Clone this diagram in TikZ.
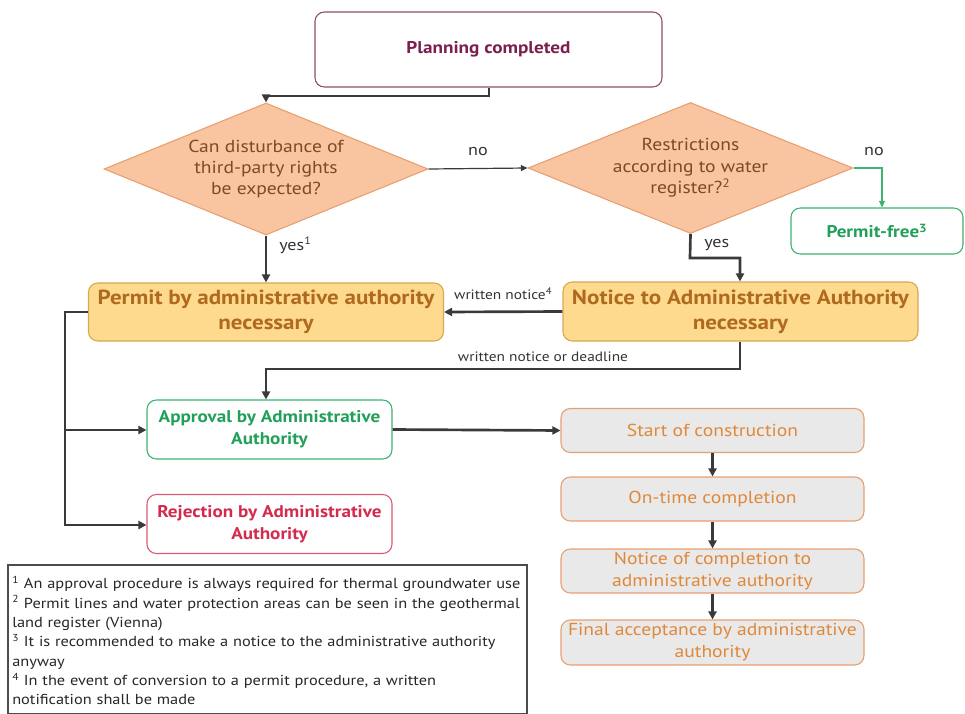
\documentclass[tikz,border=0pt]{standalone}
\usepackage{fontspec}
\setmainfont{PT Sans}[FakeStretch=1.13]
\usetikzlibrary{shapes.geometric,arrows.meta}
\definecolor{planborder}{HTML}{8E4D6E}
\definecolor{plantext}{HTML}{7A1F4F}
\definecolor{diafill}{HTML}{F9C4A0}
\definecolor{diaborder}{HTML}{E6A070}
\definecolor{diatext}{HTML}{7D4A22}
\definecolor{yfill}{HTML}{FDDA8E}
\definecolor{yborder}{HTML}{D8A850}
\definecolor{ytext}{HTML}{B06A20}
\definecolor{gtext}{HTML}{22A05A}
\definecolor{gborder}{HTML}{3CB371}
\definecolor{rtext}{HTML}{D42A4E}
\definecolor{rborder}{HTML}{D85A75}
\definecolor{grayfill}{HTML}{E9E9E9}
\definecolor{oborder}{HTML}{E6A070}
\definecolor{otext}{HTML}{E0883A}
\definecolor{conncol}{HTML}{3A3A3A}
\begin{document}
\begin{tikzpicture}[x=0.75pt,y=-0.75pt,
  box/.style={rectangle,rounded corners=7pt,draw,line width=0.8pt,align=center,inner sep=0pt},
  planbox/.style={box,draw=planborder,text=plantext,font=\bfseries\fontsize{12.75}{15}\selectfont},
  dia/.style={diamond,aspect=2.45,draw=diaborder,fill=diafill,line width=0.8pt,text=diatext,align=center,inner sep=0pt,font=\fontsize{13}{16}\selectfont},
  ybox/.style={box,draw=yborder,fill=yfill,text=ytext,font=\bfseries\fontsize{15.3}{18.8}\selectfont},
  gbox/.style={box,draw=gborder,fill=white,text=gtext,font=\bfseries\fontsize{12.7}{16.2}\selectfont},
  rbox/.style={box,draw=rborder,fill=white,text=rtext,font=\bfseries\fontsize{12.7}{16.2}\selectfont},
  obox/.style={box,draw=oborder,fill=grayfill,text=otext,font=\fontsize{13}{16.5}\selectfont},
  conn/.style={draw=conncol,line width=2pt,-{Triangle[length=6pt,width=6pt]}},
  thin/.style={draw=conncol,line width=0.9pt,-{Triangle[length=5pt,width=4.5pt]}},
  gconn/.style={draw=gborder,line width=0.9pt,-{Triangle[length=5pt,width=4.5pt]}},
  lbl/.style={inner sep=0pt,text=black!80,font=\fontsize{12}{14}\selectfont},
  slbl/.style={inner sep=0pt,text=black!80,font=\fontsize{10.2}{12}\selectfont}
]
\useasboundingbox (0,0) rectangle (965,714);

% nodes
\node[planbox,minimum width=0.75*347pt,minimum height=0.75*75pt] (plan) at (488.5,49.5) {Planning completed};
\node[dia,minimum width=0.75*324pt,minimum height=0.75*132pt] (d1) at (266,169) {Can disturbance of\\third-party rights\\be expected?};
\node[dia,minimum width=0.75*325pt,minimum height=0.75*131pt] (d2) at (690.5,168) {Restrictions\\according to water\\register?\textsuperscript{2}};
\node[gbox,minimum width=0.75*172pt,minimum height=0.75*46pt] (pfree) at (877,231) {Permit-free\textsuperscript{3}};
\node[ybox,minimum width=0.75*355pt,minimum height=0.75*58pt] (permit) at (266,312) {Permit by administrative authority\\necessary};
\node[ybox,minimum width=0.75*355pt,minimum height=0.75*59pt] (notice) at (740.5,311.5) {Notice to Administrative Authority\\necessary};
\node[gbox,minimum width=0.75*245pt,minimum height=0.75*59pt] (approval) at (269.5,429.5) {Approval by Administrative\\Authority};
\node[rbox,minimum width=0.75*245pt,minimum height=0.75*59pt] (reject) at (269.5,524) {Rejection by Administrative\\Authority};
\node[obox,minimum width=0.75*303pt,minimum height=0.75*44pt] (start) at (712.5,430.5) {Start of construction};
\node[obox,minimum width=0.75*303pt,minimum height=0.75*44pt] (ontime) at (712.5,499) {On-time completion};
\node[obox,minimum width=0.75*303pt,minimum height=0.75*44pt] (ncompl) at (712.5,571) {Notice of completion to\\administrative authority};
\node[obox,minimum width=0.75*303pt,minimum height=0.75*45pt] (final) at (712.5,642.5) {Final acceptance by administrative\\authority};

% footnote box
\node[draw=black!70,line width=0.8pt,rectangle,inner sep=0pt,minimum width=0.75*519pt,minimum height=0.75*149pt] (fnbox) at (267.5,639.5) {};
\node[anchor=north west,inner sep=0pt,align=left,text width=0.75*512pt,text=black!85,font=\fontsize{10.85}{14.5}\selectfont] (fntext) at (12,576)
{\textsuperscript{1} An approval procedure is always required for thermal groundwater use\\
\textsuperscript{2} Permit lines and water protection areas can be seen in the geothermal\\
land register (Vienna)\\
\textsuperscript{3} It is recommended to make a notice to the administrative authority\\
anyway\\
\textsuperscript{4} In the event of conversion to a permit procedure, a written\\
notification shall be made};

% coordinates for connector bends
\coordinate (b1) at (489,96);
\coordinate (b2) at (690,258);
\coordinate (b3) at (740,369);
\coordinate (b4) at (65,312);
\coordinate (b5) at (65,430);
\coordinate (b6) at (65,525);
\coordinate (b7) at (882,168);

% connectors
\draw[conn] (plan.south -| b1) -- (b1) -| (d1.north);
\draw[thin] (d1.east) -- (d2.west) node[midway,above=9pt,lbl] (lno1) {no};
\draw[gconn] (d2.east) -- (b7) -- (pfree.north -| b7);
\node[lbl] (lno2) at (874,151) {no};
\draw[conn] (d1.south) -- (permit.north -| d1.south);
\node[lbl,anchor=west] (lyes1) at (279,245) {yes\textsuperscript{1}};
\draw[conn] (d2.south) -- (b2) -| (notice.north -| b3);
\node[lbl,anchor=west] (lyes2) at (704,245) {yes};
\draw[conn] (notice.west) -- (permit.east) node[midway,above=8pt,slbl] (lwn) {written notice\textsuperscript{4}};
\draw[conn] (notice.south -| b3) -- (b3) -| (approval.north -| permit.north);
\node[slbl] (lwnd) at (543,357) {written notice or deadline};
\draw[conn] (permit.west |- b4) -- (b4) -- (b6) -- (reject.west |- b6);
\draw[conn] (b5) -- (approval.west |- b5);
\draw[conn] (approval.east) -- (start.west);
\draw[conn,line width=1.6pt] (start) -- (ontime);
\draw[conn,line width=1.6pt] (ontime) -- (ncompl);
\draw[conn,line width=1.6pt] (ncompl) -- (final);
\end{tikzpicture}
\end{document}
